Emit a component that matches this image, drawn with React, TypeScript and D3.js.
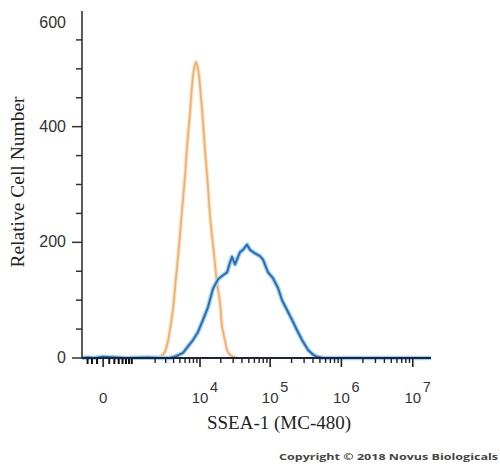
import React from "react";
import * as d3 from "d3";

// ---- data ----
// isotype control histogram (orange): fluorescence intensity, cell count
const controlIntensity = [1990, 2424, 2815, 3147, 3520, 3925, 4217, 4688, 5395, 5998, 6425, 7127, 7620, 8160, 8750, 9350, 10000, 10700, 11830, 13080, 14010, 15480, 17650, 19520, 20820, 22980, 25350, 28900, 34080];
const controlCount = [0, 2, 8, 22, 50, 85, 122, 175, 255, 315, 365, 425, 470, 500, 512, 500, 470, 430, 360, 295, 245, 195, 130, 95, 55, 30, 10, 3, 0];

// SSEA-1 stained histogram (blue)
const stainedIntensity = [-450, -300, -150, 0, 500, 1500, 2500, 3520, 4365, 5585, 6640, 7885, 9350, 11060, 13080, 15460, 18240, 21500, 24520, 27090, 28900, 31900, 35200, 37560, 41400, 47190, 52030, 61180, 72000, 79350, 93400, 109800, 129000, 146900, 172700, 203000, 238600, 280600, 340400, 400000, 455000, 552000, 1000000, 18000000];
const stainedCount = [0, 1, 0, 2, 0, 1, 0, 0, 3, 9, 20, 31, 45, 66, 88, 120, 136, 143, 148, 165, 175, 162, 175, 183, 187, 196, 187, 181, 176, 170, 148, 138, 121, 100, 83, 66, 48, 31, 14, 6, 2, 0, 0, 0];

// axis ticks
const yMajorTicks = [0, 200, 400];
const yMinorTicks = [50, 100, 150, 250, 300, 350, 450, 500, 550];
const yTickLabels = ["0", "200", "400", "600"];
const yLabelValues = [0, 200, 400, 600];
const xMajorTicks = [0, 1e4, 1e5, 1e6, 1e7];
const xMajorLabels = ["0", "4", "5", "6", "7"];
const xNearZeroTicks = [-300, -200, -100, 100, 200, 300, 400, 500, 600, 700];
const xMinorTicks = [
  2000, 3000, 4000, 5000, 6000, 7000, 8000, 9000,
  2e4, 3e4, 4e4, 5e4, 6e4, 7e4, 8e4, 9e4,
  2e5, 3e5, 4e5, 5e5, 6e5, 7e5, 8e5, 9e5,
  2e6, 3e6, 4e6, 5e6, 6e6, 7e6, 8e6, 9e6,
];

const xTitle = "SSEA-1 (MC-480)";
const yTitle = "Relative Cell Number";
const copyright = "Copyright \u00A9 2018 Novus Biologicals";

export default function App() {
  const x = d3.scaleSymlog().constant(460).domain([-450, 1.8e7]).range([82, 431]);
  const y = d3.scaleLinear().domain([0, 600]).range([358, 11]);

  const control = controlIntensity.map((v, i) => [v, controlCount[i]] as [number, number]);
  const stained = stainedIntensity.map((v, i) => [v, stainedCount[i]] as [number, number]);

  const lineSmooth = d3
    .line<[number, number]>()
    .x((d) => x(d[0]))
    .y((d) => y(d[1]))
    .curve(d3.curveCatmullRom.alpha(0.5));
  const lineRough = d3
    .line<[number, number]>()
    .x((d) => x(d[0]))
    .y((d) => y(d[1]))
    .curve(d3.curveLinear);

  const tickFont = "'Liberation Sans', Arial, sans-serif";
  const titleFont = "'Liberation Serif', 'Times New Roman', serif";

  return (
    <div style={{ position: "absolute", left: 0, top: 0 }}>
      <svg width={500} height={466} style={{ display: "block", background: "#fff" }}>
        {/* curves */}
        <path d={lineSmooth(control) || ""} fill="none" stroke="#fbe3c6" strokeWidth={4} />
        <path d={lineSmooth(control) || ""} fill="none" stroke="#eeb173" strokeWidth={1.8} />
        <path d={lineRough(stained) || ""} fill="none" stroke="#9fd3f2" strokeWidth={4.5} strokeLinejoin="round" />
        <path d={lineRough(stained) || ""} fill="none" stroke="#2f6cad" strokeWidth={2} strokeLinejoin="round" />

        {/* y axis */}
        <line x1={82} x2={82} y1={y(600)} y2={y(0)} stroke="#333" strokeWidth={1.6} />
        {yMajorTicks.map((t) => (
          <line key={"ym" + t} x1={72} x2={82} y1={y(t)} y2={y(t)} stroke="#333" strokeWidth={1.5} />
        ))}
        {yMinorTicks.map((t) => (
          <line key={"yn" + t} x1={76} x2={82} y1={y(t)} y2={y(t)} stroke="#333" strokeWidth={1.5} />
        ))}
        {yLabelValues.map((t, i) => (
          <text
            key={"yl" + t}
            x={66}
            y={t === 600 ? y(t) + 17 : y(t) + 5}
            textAnchor="end"
            fontFamily={tickFont}
            fontSize={16}
            fill="#333"
          >
            {yTickLabels[i]}
          </text>
        ))}

        {/* x axis */}
        {xNearZeroTicks.map((t) => (
          <line key={"xz" + t} x1={x(t)} x2={x(t)} y1={358} y2={364} stroke="#111" strokeWidth={2} />
        ))}
        {xMinorTicks.map((t) => (
          <line key={"xn" + t} x1={x(t)} x2={x(t)} y1={358} y2={363} stroke="#222" strokeWidth={1.4} />
        ))}
        {xMajorTicks.map((t) => (
          <line key={"xm" + t} x1={x(t)} x2={x(t)} y1={358} y2={367} stroke="#222" strokeWidth={1.6} />
        ))}
        <line x1={82} x2={431} y1={358} y2={358} stroke="#1c2440" strokeWidth={2.2} />
        {xMajorTicks.map((t, i) =>
          t === 0 ? (
            <text key={"xl" + t} x={x(t)} y={403} textAnchor="middle" fontFamily={tickFont} fontSize={15} fill="#333">
              {xMajorLabels[i]}
            </text>
          ) : (
            <g key={"xl" + t}>
              <text x={x(t)} y={403} textAnchor="middle" fontFamily={tickFont} fontSize={15} fill="#333">
                10
              </text>
              <text x={x(t) + 10} y={392} textAnchor="start" fontFamily={tickFont} fontSize={14.5} fill="#333">
                {xMajorLabels[i]}
              </text>
            </g>
          )
        )}

        {/* titles */}
        <text x={279} y={429} textAnchor="middle" fontFamily={titleFont} fontSize={19} fill="#222">
          {xTitle}
        </text>
        <text
          transform="translate(24,182) rotate(-90)"
          textAnchor="middle"
          fontFamily={titleFont}
          fontSize={19.5}
          fill="#222"
        >
          {yTitle}
        </text>

        {/* copyright */}
        <text
          x={279}
          y={460}
          fontFamily="'Open Sans', sans-serif"
          fontWeight={700}
          fontSize={9.5}
          fill="#444"
          textLength={219}
          lengthAdjust="spacingAndGlyphs"
        >
          {copyright}
        </text>
      </svg>
    </div>
  );
}
